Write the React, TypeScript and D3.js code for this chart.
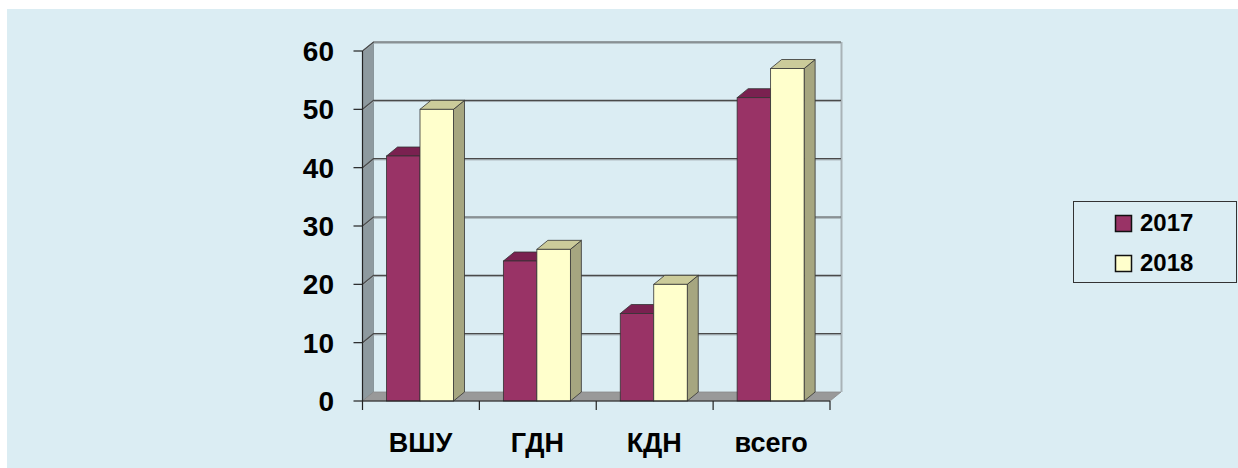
import React from "react";
import * as d3 from "d3";

const categories = ["ВШУ", "ГДН", "КДН", "всего"];
const seriesNames = ["2017", "2018"];
const values2017 = [42, 24, 15, 52];
const values2018 = [50, 26, 20, 57];
const yTicks = [0, 10, 20, 30, 40, 50, 60];

const W = 1238;
const H = 468;
const DX = 11;
const DY = -9;
const FONT = "'Liberation Sans', Arial, sans-serif";

const colors: Record<string, { front: string; top: string; side: string }> = {
  "2017": { front: "#993366", top: "#7a2150", side: "#6a1c44" },
  "2018": { front: "#FFFFCC", top: "#CBCB9A", side: "#A6A680" },
};

export default function App() {
  const y = d3.scaleLinear().domain([0, 60]).range([401, 51]);
  const x = d3.scaleBand<string>().domain(categories).range([362.5, 830]).padding(0);
  const inner = d3.scaleBand<string>().domain(seriesNames).range([24, 91]).padding(0);
  const x0 = 362.5;
  const x1 = 830;
  const yTop = y(60);
  const yBot = y(0);
  const seriesValues: Record<string, number[]> = { "2017": values2017, "2018": values2018 };

  const bars: JSX.Element[] = [];
  categories.forEach((c, i) => {
    seriesNames.forEach((s) => {
      const v = seriesValues[s][i];
      const bx = (x(c) as number) + (inner(s) as number);
      const bw = inner.bandwidth();
      const by = y(v);
      const col = colors[s];
      const top = `M${bx},${by}L${bx + DX},${by + DY}L${bx + bw + DX},${by + DY}L${bx + bw},${by}Z`;
      const side = `M${bx + bw},${by}L${bx + bw + DX},${by + DY}L${bx + bw + DX},${yBot + DY}L${bx + bw},${yBot}Z`;
      bars.push(
        <g key={c + s}>
          <path d={side} fill={col.side} stroke="#333" strokeWidth={0.8} />
          <path d={top} fill={col.top} stroke="#333" strokeWidth={0.8} />
          <rect x={bx} y={by} width={bw} height={yBot - by} fill={col.front} stroke="#333" strokeWidth={0.8} />
        </g>
      );
    });
  });

  return (
    <svg
      width={W}
      height={H}
      style={{ position: "fixed", left: 0, top: 0, background: "#ffffff" }}
    >
      <rect x={7} y={9} width={W - 7} height={H - 9} fill="#DBEDF3" />
      {/* left wall */}
      <path
        d={`M${x0},${yTop}L${x0 + DX},${yTop + DY}L${x0 + DX},${yBot + DY}L${x0},${yBot}Z`}
        fill="#8E9A9F"
        stroke="#7d8a8f"
        strokeWidth={0.8}
      />
      {/* floor */}
      <path
        d={`M${x0},${yBot}L${x0 + DX},${yBot + DY}L${x1 + DX},${yBot + DY}L${x1},${yBot}Z`}
        fill="#999999"
        stroke="#888"
        strokeWidth={0.8}
      />
      {/* back wall right edge */}
      <line x1={x1 + DX + 0.5} x2={x1 + DX + 0.5} y1={yTop + DY} y2={yBot + DY} stroke="#a9b3b7" strokeWidth={2} />
      {/* gridlines */}
      {yTicks.filter((t) => t > 0).map((t) => (
        <g key={t}>
          <path
            d={`M${x0},${y(t)}L${x0 + DX},${y(t) + DY}L${x1 + DX},${y(t) + DY}`}
            fill="none"
            stroke="#a0aaae"
            strokeWidth={1}
            transform="translate(0,1.2)"
          />
          <path
            d={`M${x0},${y(t)}L${x0 + DX},${y(t) + DY}L${x1 + DX},${y(t) + DY}`}
            fill="none"
            stroke="#4a4a4a"
            strokeWidth={1.2}
          />
        </g>
      ))}
      {bars}
      {/* axes */}
      <line x1={x0} x2={x0} y1={yTop} y2={yBot + 9} stroke="#222" strokeWidth={1.2} />
      <line x1={x0} x2={x1} y1={yBot} y2={yBot} stroke="#222" strokeWidth={1.2} />
      {yTicks.map((t) => (
        <g key={"yt" + t}>
          <line x1={x0 - 9} x2={x0} y1={y(t)} y2={y(t)} stroke="#222" strokeWidth={1.2} />
          <text
            x={334}
            y={y(t)}
            dy="0.36em"
            textAnchor="end"
            fontFamily={FONT}
            fontWeight="bold"
            fontSize={28}
            fill="#000"
          >
            {t}
          </text>
        </g>
      ))}
      {categories.map((c) => (
        <line
          key={"xt" + c}
          x1={(x(c) as number) + x.bandwidth()}
          x2={(x(c) as number) + x.bandwidth()}
          y1={yBot}
          y2={yBot + 9}
          stroke="#222"
          strokeWidth={1.2}
        />
      ))}
      {categories.map((c) => (
        <text
          key={"xl" + c}
          x={(x(c) as number) + 58}
          y={452}
          textAnchor="middle"
          fontFamily={FONT}
          fontWeight="bold"
          fontSize={27}
          fill="#000"
        >
          {c}
        </text>
      ))}
      {/* legend */}
      <rect x={1073.5} y={201.5} width={163} height={81} fill="#DBEDF3" stroke="#333" strokeWidth={1} />
      {seriesNames.map((s, i) => (
        <g key={"lg" + s}>
          <rect
            x={1115.5}
            y={215.5 + i * 40}
            width={16}
            height={16}
            fill={colors[s].front}
            stroke="#111"
            strokeWidth={1.5}
          />
          <text
            x={1140}
            y={231 + i * 40}
            fontFamily={FONT}
            fontWeight="bold"
            fontSize={24}
            fill="#000"
          >
            {s}
          </text>
        </g>
      ))}
    </svg>
  );
}
